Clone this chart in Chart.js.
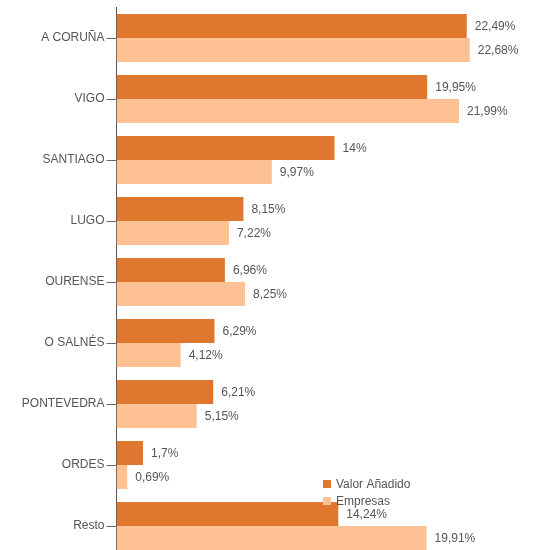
<!DOCTYPE html>
<html>
<head>
<meta charset="utf-8">
<script src="https://cdn.jsdelivr.net/npm/chart.js@4/dist/chart.umd.min.js"></script>
<style>
html,body{margin:0;padding:0;background:#fff;overflow:hidden;}
#wrap{position:absolute;left:0;top:0;width:537px;height:560px;}
</style>
</head>
<body>
<div id="wrap"><canvas id="c"></canvas></div>
<script>
const categories = ["A CORUÑA","VIGO","SANTIAGO","LUGO","OURENSE","O SALNÉS","PONTEVEDRA","ORDES","Resto"];
const valorAnadido = [22.49,19.95,14,8.15,6.96,6.29,6.21,1.7,14.24];
const empresas = [22.68,21.99,9.97,7.22,8.25,4.12,5.15,0.69,19.91];
const seriesNames = ["Valor Añadido","Empresas"];
const colors = ["#df782e","#fdc194"];
const textColor = "#555";
const font = "12px 'Liberation Sans', Arial, sans-serif";

const fmt = v => String(v).replace('.', ',') + '%';

const labelPlugin = {
  id: 'valueLabels',
  afterDatasetsDraw(chart) {
    const ctx = chart.ctx;
    ctx.save();
    ctx.font = font;
    ctx.fillStyle = textColor;
    ctx.textAlign = 'left';
    ctx.textBaseline = 'middle';
    chart.data.datasets.forEach((ds, i) => {
      chart.getDatasetMeta(i).data.forEach((bar, j) => {
        ctx.fillText(fmt(ds.data[j]), bar.x + 8, bar.y + 1);
      });
    });
    ctx.restore();
  },
  afterDraw(chart) {
    const ctx = chart.ctx;
    const a = chart.chartArea;
    ctx.save();
    ctx.font = font;
    ctx.textBaseline = 'middle';
    ctx.textAlign = 'left';
    const lx = a.left + 0.491 * (a.right - a.left);
    const ly = a.top + 0.868 * (a.bottom - a.top);
    seriesNames.forEach((n, i) => {
      const y = ly + i * 17;
      ctx.fillStyle = colors[i];
      ctx.fillRect(lx, y - 4, 8, 8);
      ctx.fillStyle = textColor;
      ctx.fillText(n, lx + 13, y + 1);
    });
    ctx.restore();
  }
};

new Chart(document.getElementById('c'), {
  type: 'bar',
  data: {
    labels: categories,
    datasets: [
      { label: seriesNames[0], data: valorAnadido, backgroundColor: colors[0], categoryPercentage: 0.787, barPercentage: 1 },
      { label: seriesNames[1], data: empresas, backgroundColor: colors[1], categoryPercentage: 0.787, barPercentage: 1 }
    ]
  },
  options: {
    indexAxis: 'y',
    responsive: true,
    maintainAspectRatio: false,
    animation: false,
    layout: { padding: { top: 7.5, bottom: 3.5, left: 0, right: 0 } },
    plugins: { legend: { display: false }, tooltip: { enabled: false } },
    scales: {
      x: { display: false, min: 0, max: 27 },
      y: {
        afterFit(s) { s.width = 116.5; s.paddingTop = 0; s.paddingBottom = 0; },
        grid: { offset: false, drawOnChartArea: false, drawTicks: true, tickLength: 10, color: '#666' },
        border: { display: true, color: '#555', width: 1 },
        ticks: { color: textColor, font: { family: "'Liberation Sans', Arial, sans-serif", size: 12 }, padding: 2 }
      }
    }
  },
  plugins: [labelPlugin]
});
</script>
</body>
</html>
